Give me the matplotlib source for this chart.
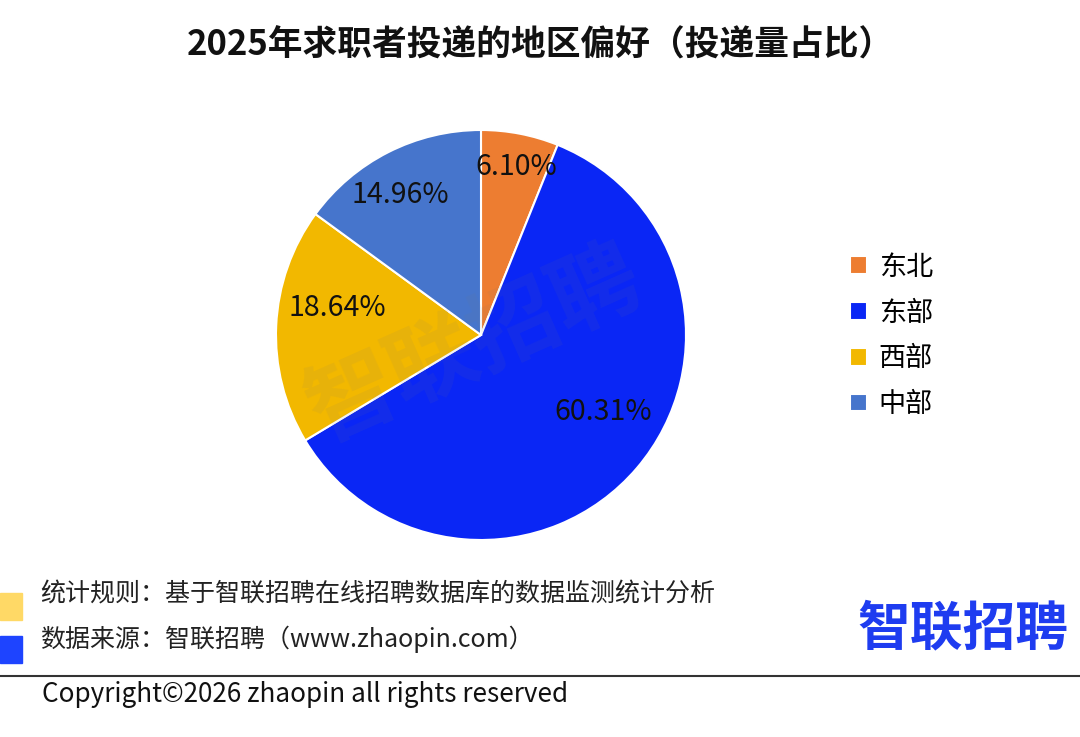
import matplotlib
matplotlib.use('Agg')
import matplotlib.pyplot as plt
from matplotlib.patches import Rectangle

plt.rcParams['font.family'] = ['Noto Sans CJK SC', 'DejaVu Sans']

# data
regions = ['东北', '东部', '西部', '中部']
shares = [6.10, 60.31, 18.64, 14.96]
colors = ['#ED7D31', '#0A26F5', '#F2B800', '#4675CC']
# label positions as fraction of radius (Excel best-fit style)
label_pos = [(0.17, 0.82), (0.595, -0.375), (-0.70, 0.13), (-0.395, 0.685)]

W, H = 1080, 737
fig = plt.figure(figsize=(W / 100, H / 100), dpi=100)

# pie axes: center (481,335) px, radius 205 px
cx, cy, r = 481, 335, 205
ax = fig.add_axes([(cx - r) / W, (H - cy - r) / H, 2 * r / W, 2 * r / H])
wedges, _ = ax.pie(shares, colors=colors, startangle=90, counterclock=False,
                   wedgeprops=dict(edgecolor='white', linewidth=1.5))
ax.set_xlim(-1, 1)
ax.set_ylim(-1, 1)
ax.set_aspect('equal')
ax.axis('off')

for v, (lx, ly) in zip(shares, label_pos):
    ax.text(lx, ly, f'{v:.2f}%', ha='center', va='center', fontsize=20.5, color='#111111')

# watermark
ax.text(-0.03, -0.05, '智联招聘', ha='center', va='center', fontsize=64, fontweight='bold',
        rotation=24, color='#777777', alpha=0.09)

# title
fig.text(0.5, 1 - 45 / H, '2025年求职者投递的地区偏好（投递量占比）', ha='center', va='center',
         fontsize=25, fontweight='bold', color='#111111')

# legend
fig.legend(wedges, regions, loc='center left', bbox_to_anchor=(826 / W, 1 - 336 / H),
           frameon=False, fontsize=19.5, handlelength=0.6, handleheight=0.6,
           labelspacing=0.7, handletextpad=0.45)

# footer squares
fig.patches.append(Rectangle((0, 1 - 620 / H), 22 / W, 27 / H, transform=fig.transFigure,
                             color='#FFD966', zorder=1))
fig.patches.append(Rectangle((0, 1 - 663 / H), 22 / W, 27 / H, transform=fig.transFigure,
                             color='#1E44FF', zorder=1))

fig.text(40 / W, 1 - 594 / H, '统计规则：基于智联招聘在线招聘数据库的数据监测统计分析',
         ha='left', va='center', fontsize=18, color='#222222')
fig.text(40 / W, 1 - 639 / H, '数据来源：智联招聘（www.zhaopin.com）',
         ha='left', va='center', fontsize=18, color='#222222')

# logo
fig.text(1068 / W, 1 - 629 / H, '智联招聘', ha='right', va='center', fontsize=38,
         fontweight='bold', color='#1E3CF0')

# separator line
fig.add_artist(plt.Line2D([0, 1], [1 - 676 / H, 1 - 676 / H], transform=fig.transFigure,
                          color='#333333', linewidth=1.5))

fig.text(42 / W, 1 - 694 / H, 'Copyright©2026 zhaopin all rights reserved',
         ha='left', va='center', fontsize=18.8, color='#111111')

fig.savefig('out.png', dpi=100, facecolor='white')
